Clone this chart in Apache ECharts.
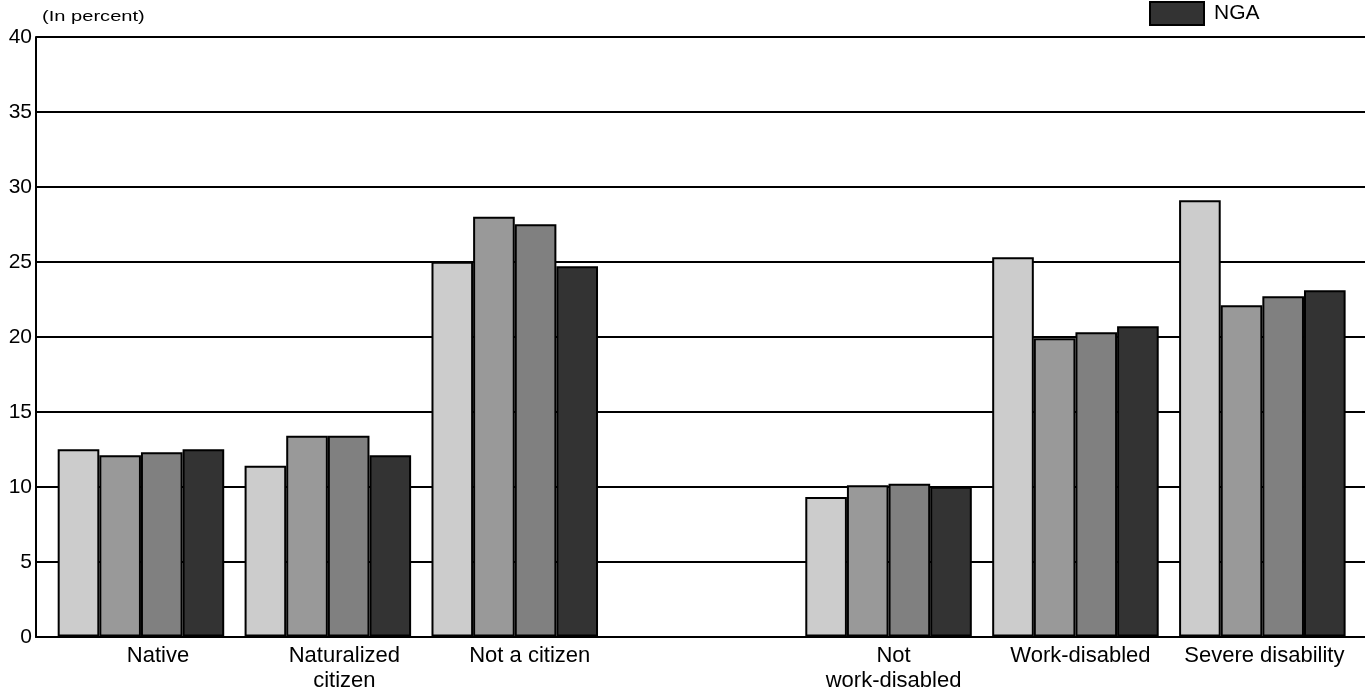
<!DOCTYPE html>
<html>
<head>
<meta charset="utf-8">
<script src="https://cdn.jsdelivr.net/npm/echarts@6/dist/echarts.min.js"></script>
<style>
html,body{margin:0;padding:0;background:#fff;}
#chart{width:1365px;height:692px;}
</style>
</head>
<body>
<div id="chart"></div>
<script>
// ---- data ----
const categories = ['Native', 'Naturalized\ncitizen', 'Not a citizen', '', 'Not\nwork-disabled', 'Work-disabled', 'Severe disability'];
const seriesNames = ['Series 1', 'Series 2', 'Series 3', 'NGA'];
const series1 = [12.5, 11.4, 25.0, null, 9.3, 25.3, 29.1];
const series2 = [12.1, 13.4, 28.0, null, 10.1, 19.9, 22.1];
const series3 = [12.3, 13.4, 27.5, null, 10.2, 20.3, 22.7];
const seriesNGA = [12.5, 12.1, 24.7, null, 10.0, 20.7, 23.1];
const yMin = 0, yMax = 40, yStep = 5;
const unitLabel = '(In percent)';

// ---- styling ----
const FONT = "'Liberation Sans', Arial, Helvetica, sans-serif";
const colors = ['#cccccc', '#999999', '#808080', '#333333'];
const labelShift = [34, 33, 30, 0, 10, 10, 4];
const rich = {};
labelShift.forEach((p, i) => {
  rich['c' + i] = { padding: [0, 0, 0, p], fontSize: 22, lineHeight: 25, color: '#000', fontFamily: FONT };
});

const allData = [series1, series2, series3, seriesNGA];

const chart = echarts.init(document.getElementById('chart'));
chart.setOption({
  animation: false,
  backgroundColor: '#fff',
  textStyle: { fontFamily: FONT, color: '#000' },
  legend: {
    data: ['NGA'],
    left: 1149,
    top: 1,
    padding: 0,
    itemWidth: 54,
    itemHeight: 23,
    icon: 'rect',
    textStyle: { fontSize: 21, color: '#000', fontFamily: FONT, padding: [0, 0, 0, 5] }
  },
  graphic: [{
    type: 'text',
    left: 42,
    top: 9,
    scaleX: 1.34,
    style: { text: unitLabel, font: "15px 'Liberation Sans', Arial, sans-serif", fill: '#000' }
  }],
  grid: [
    { left: 36, right: 0, top: 37, bottom: 55 },
    { left: 47.5, right: 9.2, top: 37, bottom: 55 }
  ],
  xAxis: [
    {
      gridIndex: 0, type: 'category', data: [''],
      axisLine: { show: true, lineStyle: { color: '#000', width: 2 } },
      axisTick: { show: false }, axisLabel: { show: false }, splitLine: { show: false }
    },
    {
      gridIndex: 1, type: 'category', data: categories,
      axisLine: { show: false }, axisTick: { show: false },
      axisLabel: {
        interval: 0, margin: 7,
        formatter: (v, idx) => v === '' ? '' : v.split('\n').map(l => '{c' + idx + '|' + l + '}').join('\n'),
        rich: rich
      }
    }
  ],
  yAxis: [
    {
      gridIndex: 0, type: 'value', min: yMin, max: yMax, interval: yStep,
      axisLine: { show: true, lineStyle: { color: '#000', width: 2 } },
      axisTick: { show: false },
      axisLabel: { fontSize: 21, color: '#000', margin: 4, fontFamily: FONT },
      splitLine: { show: true, lineStyle: { color: '#000', width: 2 } }
    },
    { gridIndex: 1, type: 'value', min: yMin, max: yMax, show: false }
  ],
  series: seriesNames.map((name, i) => ({
    name: name,
    type: 'bar',
    xAxisIndex: 1,
    yAxisIndex: 1,
    data: allData[i],
    barGap: '0%',
    barCategoryGap: '10.9%',
    itemStyle: { color: colors[i], borderColor: '#000', borderWidth: 2 }
  }))
});
</script>
</body>
</html>
